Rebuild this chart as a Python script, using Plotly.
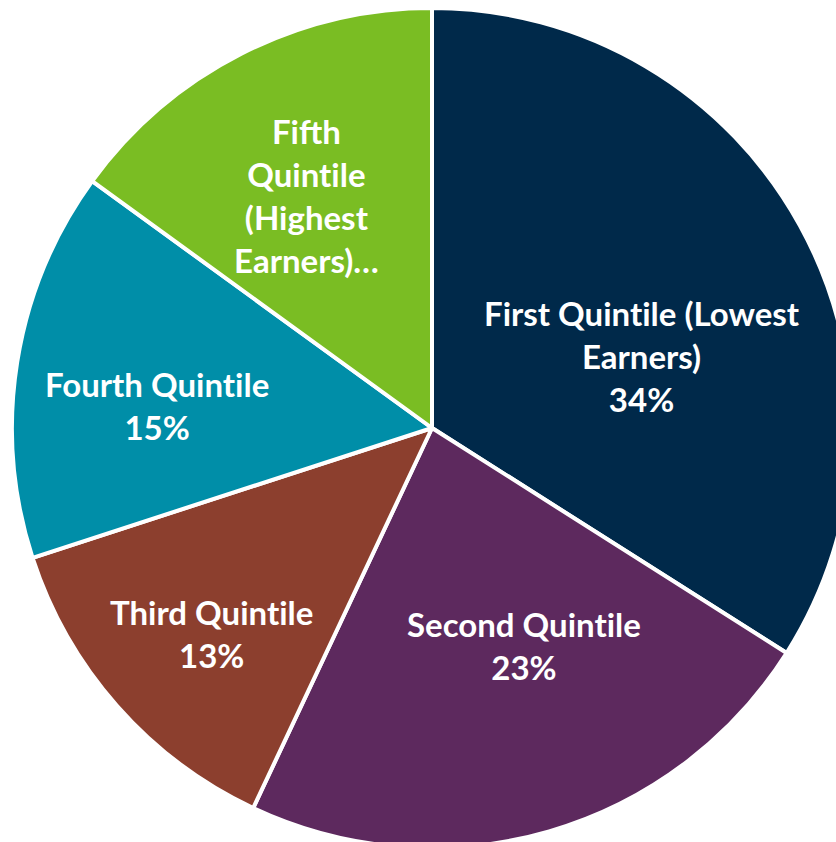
import plotly.graph_objects as go

categories = ["First Quintile (Lowest Earners)", "Second Quintile", "Third Quintile",
              "Fourth Quintile", "Fifth Quintile (Highest Earners)"]
values = [34, 23, 13, 15, 15]
label_text = ["First Quintile (Lowest<br>Earners)<br>34%",
              "Second Quintile<br>23%",
              "Third Quintile<br>13%",
              "Fourth Quintile<br>15%",
              "Fifth<br>Quintile<br>(Highest<br>Earners)…"]
colors = ["#00294A", "#5D295E", "#8C3F2E", "#008EA8", "#7ABD23"]

# label centres (page pixels) – layout only
label_px = [(642, 356), (524, 645), (211, 633), (157, 405), (306, 196)]

W, H = 864, 856

fig = go.Figure(go.Pie(
    labels=categories,
    values=values,
    textinfo="none",
    sort=False,
    direction="clockwise",
    rotation=0,
    domain=dict(x=[12 / W, 852 / W], y=[8 / H, 848 / H]),
    marker=dict(colors=colors, line=dict(color="white", width=4)),
    showlegend=False,
    hoverinfo="label+percent",
))

for txt, (px, py) in zip(label_text, label_px):
    # zero-width non-joiner avoids Lato's "ti" ligature
    shown = txt.replace("ti", "t\u200ci")
    fig.add_annotation(
        x=px / W, y=1 - py / H, xref="paper", yref="paper",
        text=shown, showarrow=False, xanchor="center", yanchor="middle",
        align="center",
        font=dict(family="Lato", size=33, color="white", weight="bold"),
    )

fig.update_layout(
    width=W, height=H,
    margin=dict(l=0, r=0, t=0, b=0),
    paper_bgcolor="white",
)

fig.write_html(
    "out.html",
    config={"displayModeBar": False},
    post_script="document.documentElement.style.overflow='hidden';document.body.style.margin='0';",
)
